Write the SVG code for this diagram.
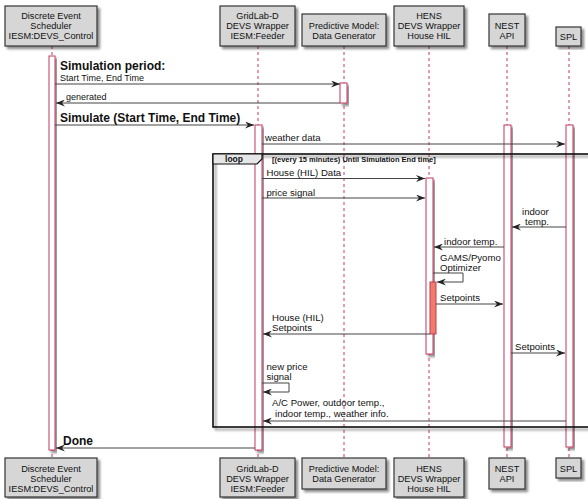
<svg xmlns="http://www.w3.org/2000/svg" width="588" height="499" viewBox="0 0 588 499">
<defs>
<filter id="sh" x="-20%" y="-20%" width="140%" height="140%"><feDropShadow dx="2.5" dy="2.5" stdDeviation="1.2" flood-color="#000" flood-opacity="0.45"/></filter>
<marker id="ah" viewBox="0 0 9 7" refX="9" refY="3.5" markerWidth="9" markerHeight="7" markerUnits="userSpaceOnUse" orient="auto"><path d="M0,0 L9,3.5 L0,7 L3,3.5 Z" fill="#222"/></marker>
</defs>
<style>
.box{fill:#D6D6D6;stroke:#333;stroke-width:1.2;filter:url(#sh)}
.pt{font-family:"Liberation Sans",Arial,sans-serif;font-size:9.2px;fill:#111;text-anchor:middle}
.life{stroke:#C2385E;stroke-width:1;stroke-dasharray:3,3;fill:none}
.act{fill:#fff;stroke:#C2385E;stroke-width:1;filter:url(#sh)}
.msg{stroke:#444;stroke-width:1;fill:none;marker-end:url(#ah)}
.mt{font-family:"Liberation Sans",Arial,sans-serif;font-size:9.6px;fill:#111}
.bt{font-family:"Liberation Sans",Arial,sans-serif;font-size:12px;font-weight:bold;fill:#111}
.st{font-family:"Liberation Sans",Arial,sans-serif;font-size:9px;fill:#111}
.ct{font-family:"Liberation Sans",Arial,sans-serif;font-size:7.5px;font-weight:bold;fill:#111}
</style>
<rect width="588" height="499" fill="#fff"/>

<g id="scheduler">
<line class="life" x1="52" y1="46" x2="52" y2="458"/>
<rect class="act" x="49" y="56" width="6" height="394"/>
<rect class="box" x="5" y="6" width="92" height="40"/>
<text class="pt" x="51" y="19">Discrete Event</text>
<text class="pt" x="51" y="29">Scheduler</text>
<text class="pt" x="51" y="39">IESM:DEVS_Control</text>
<rect class="box" x="5" y="458" width="92" height="39"/>
<text class="pt" x="51" y="472">Discrete Event</text>
<text class="pt" x="51" y="482">Scheduler</text>
<text class="pt" x="51" y="492">IESM:DEVS_Control</text>
</g>

<g id="gridlab">
<line class="life" x1="258" y1="46" x2="258" y2="458"/>
<rect class="act" x="255" y="125" width="7" height="325"/>
<rect class="box" x="220" y="6" width="75" height="40"/>
<text class="pt" x="257.5" y="19">GridLab-D</text>
<text class="pt" x="257.5" y="29">DEVS Wrapper</text>
<text class="pt" x="257.5" y="39">IESM:Feeder</text>
<rect class="box" x="220" y="458" width="75" height="39"/>
<text class="pt" x="257.5" y="472">GridLab-D</text>
<text class="pt" x="257.5" y="482">DEVS Wrapper</text>
<text class="pt" x="257.5" y="492">IESM:Feeder</text>
</g>

<g id="predictive">
<line class="life" x1="344" y1="46" x2="344" y2="458"/>
<rect class="act" x="340" y="83" width="7" height="20"/>
<rect class="box" x="302" y="14" width="84" height="32"/>
<text class="pt" x="344" y="28.5">Predictive Model:</text>
<text class="pt" x="344" y="38.5">Data Generator</text>
<rect class="box" x="302" y="458" width="84" height="31"/>
<text class="pt" x="344" y="472">Predictive Model:</text>
<text class="pt" x="344" y="482">Data Generator</text>
</g>

<g id="hens">
<line class="life" x1="429" y1="46" x2="429" y2="458"/>
<rect class="act" x="426" y="178" width="7" height="176"/>
<rect x="430" y="282" width="6" height="52" fill="#EE7C68" stroke="#C2385E" stroke-width="1"/>
<rect class="box" x="394" y="6" width="70" height="40"/>
<text class="pt" x="429" y="19">HENS</text>
<text class="pt" x="429" y="29">DEVS Wrapper</text>
<text class="pt" x="429" y="39">House HIL</text>
<rect class="box" x="394" y="458" width="70" height="39"/>
<text class="pt" x="429" y="472">HENS</text>
<text class="pt" x="429" y="482">DEVS Wrapper</text>
<text class="pt" x="429" y="492">House HIL</text>
</g>

<g id="nest">
<line class="life" x1="507" y1="46" x2="507" y2="458"/>
<rect class="act" x="504" y="125" width="7" height="322"/>
<rect class="box" x="489" y="14" width="36" height="32"/>
<text class="pt" x="507" y="28.5">NEST</text>
<text class="pt" x="507" y="38.5">API</text>
<rect class="box" x="489" y="458" width="36" height="31"/>
<text class="pt" x="507" y="472">NEST</text>
<text class="pt" x="507" y="482">API</text>
</g>

<g id="spl">
<line class="life" x1="569" y1="46" x2="569" y2="458"/>
<rect class="act" x="566" y="125" width="7" height="322"/>
<rect class="box" x="556" y="27" width="25" height="19"/>
<text class="pt" x="568.5" y="40">SPL</text>
<rect class="box" x="556" y="458" width="25" height="20"/>
<text class="pt" x="568.5" y="471.5">SPL</text>
</g>

<g id="loop">
<rect x="213" y="154" width="380" height="273" fill="none" stroke="#111" stroke-width="1.6" filter="url(#sh)"/>
<path d="M213,154 L262,154 L262,159 L257,164 L213,164 Z" fill="#E6E6E6" stroke="#111" stroke-width="1.2"/>
<text class="ct" x="234" y="162" text-anchor="middle" style="font-size:8.5px">loop</text>
<text class="ct" x="272" y="161.5">[(every 15 minutes) Until Simulation End time]</text>
</g>

<g id="connectors">
<line class="msg" x1="55" y1="84" x2="340" y2="84"/>
<text class="bt" x="60" y="70">Simulation period:</text>
<text class="st" x="60" y="81">Start Time, End Time</text>

<line class="msg" x1="340" y1="103" x2="56" y2="103"/>
<text class="st" x="66" y="100">generated</text>

<line class="msg" x1="55" y1="125" x2="254" y2="125"/>
<text class="bt" x="60" y="122">Simulate (Start Time, End Time)</text>

<line class="msg" x1="262" y1="144" x2="565" y2="144"/>
<text class="mt" x="265" y="141">weather data</text>

<line class="msg" x1="262" y1="178.5" x2="425" y2="178.5"/>
<text class="mt" x="266.5" y="176">House (HIL) Data</text>

<line class="msg" x1="262" y1="198" x2="425" y2="198"/>
<text class="mt" x="266.5" y="196">price signal</text>

<line class="msg" x1="566" y1="227" x2="512" y2="227"/>
<text class="mt" x="522" y="215">indoor</text>
<text class="mt" x="525" y="225">temp.</text>

<line class="msg" x1="504" y1="247" x2="434" y2="247"/>
<text class="mt" x="444" y="245">indoor temp.</text>

<path class="msg" d="M433,273 L463,273 L463,282 L437,282"/>
<text class="mt" x="440" y="260.5">GAMS/Pyomo</text>
<text class="mt" x="440" y="270.5">Optimizer</text>

<line class="msg" x1="436" y1="304" x2="503" y2="304"/>
<text class="mt" x="440" y="301">Setpoints</text>

<line class="msg" x1="430" y1="334" x2="263" y2="334"/>
<text class="mt" x="272" y="321">House (HIL)</text>
<text class="mt" x="272" y="331">Setpoints</text>

<line class="msg" x1="511" y1="353" x2="565" y2="353"/>
<text class="mt" x="515" y="350">Setpoints</text>

<path class="msg" d="M262,383 L289,383 L289,392 L263,392"/>
<text class="mt" x="266.5" y="370">new price</text>
<text class="mt" x="266.5" y="380">signal</text>

<line class="msg" x1="566" y1="421" x2="263" y2="421"/>
<text class="mt" x="272" y="406">A/C Power, outdoor temp.,</text>
<text class="mt" x="275" y="417">indoor temp., weather info.</text>

<line class="msg" x1="255" y1="448" x2="56" y2="448"/>
<text class="bt" x="63" y="445">Done</text>
</g>
</svg>
